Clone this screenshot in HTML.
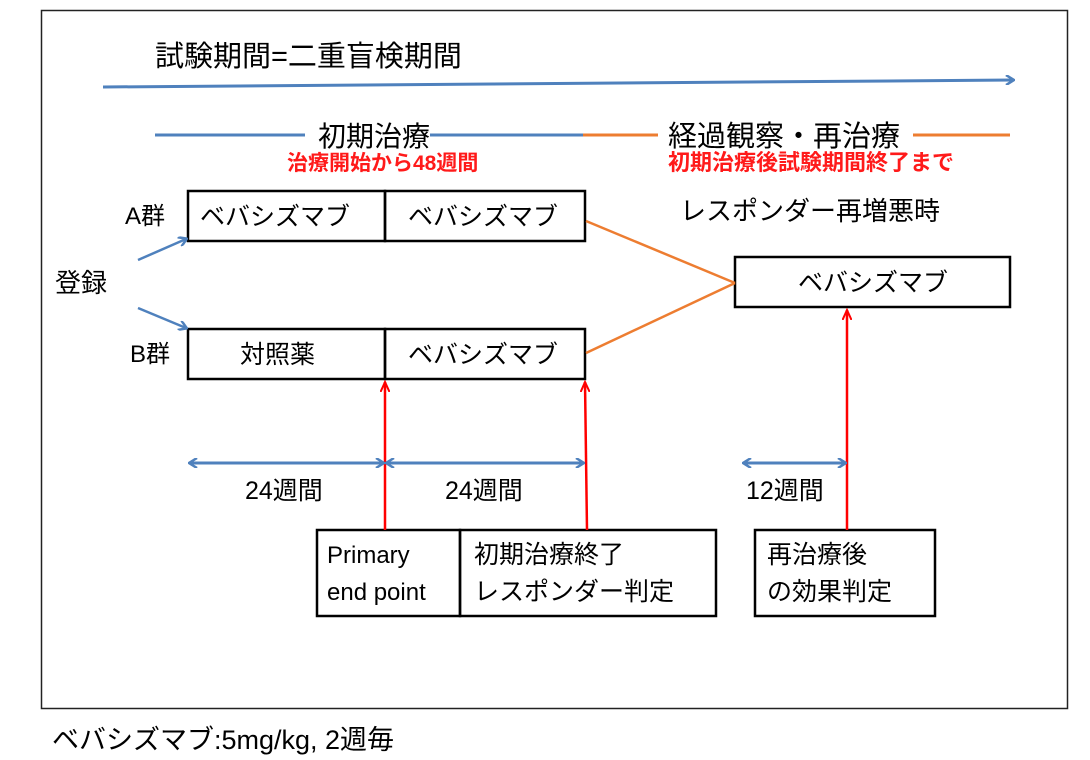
<!DOCTYPE html>
<html><head><meta charset="utf-8"><style>
html,body{margin:0;padding:0;background:#fff;}
svg{display:block;}
text{font-family:"Liberation Sans","Noto Sans CJK JP",sans-serif;fill:#000;}
</style></head><body>
<svg width="1090" height="760" viewBox="0 0 1090 760" xmlns="http://www.w3.org/2000/svg">
<defs>
<marker id="ba" markerWidth="10" markerHeight="10" refX="8" refY="5" orient="auto" markerUnits="userSpaceOnUse"><path d="M1,0 L9,5 L1,10" fill="none" stroke="#4f81bd" stroke-width="2.5"/></marker>
<marker id="bs" markerWidth="10" markerHeight="10" refX="2" refY="5" orient="auto" markerUnits="userSpaceOnUse"><path d="M9,0 L1,5 L9,10" fill="none" stroke="#4f81bd" stroke-width="2.5"/></marker>
<marker id="ra" markerWidth="12" markerHeight="10" refX="10" refY="5" orient="auto" markerUnits="userSpaceOnUse"><path d="M0,0.5 L10,5 L0,9.5" fill="none" stroke="#ff0000" stroke-width="2"/></marker>
</defs>
<rect x="41.5" y="10.5" width="1026" height="698" fill="#fff" stroke="#222" stroke-width="1.5"/>
<text x="155" y="66" font-size="29">試験期間=二重盲検期間</text>
<line x1="103" y1="87" x2="1013" y2="80" stroke="#4f81bd" stroke-width="3" marker-end="url(#ba)"/>
<line x1="155" y1="135" x2="305" y2="135" stroke="#4f81bd" stroke-width="3"/>
<line x1="430" y1="135" x2="583" y2="135" stroke="#4f81bd" stroke-width="3"/>
<line x1="583" y1="135" x2="658" y2="135" stroke="#ed7d31" stroke-width="3"/>
<line x1="913" y1="135" x2="1010" y2="135" stroke="#ed7d31" stroke-width="3"/>
<text x="318" y="146" font-size="28">初期治療</text>
<text x="668" y="146" font-size="29">経過観察・再治療</text>
<text x="287" y="170" font-size="21" font-weight="bold" style="fill:#ff1a1a">治療開始から48週間</text>
<text x="668" y="170" font-size="22" font-weight="bold" style="fill:#ff1a1a">初期治療後試験期間終了まで</text>
<text x="125" y="224" font-size="24">A群</text>
<text x="130" y="362" font-size="24">B群</text>
<text x="55" y="292" font-size="26">登録</text>
<text x="680" y="220" font-size="26">レスポンダー再増悪時</text>
<g fill="none" stroke="#000" stroke-width="2.5">
<rect x="188" y="191" width="197" height="50"/><rect x="385" y="191" width="200" height="50"/>
<rect x="188" y="329" width="197" height="50"/><rect x="385" y="329" width="200" height="50"/>
<rect x="735" y="257" width="275" height="50"/>
<rect x="317" y="530" width="143" height="86"/><rect x="460" y="530" width="256" height="86"/>
<rect x="755" y="530" width="180" height="86"/>
</g>
<g font-size="25">
<text x="200" y="225">ベバシズマブ</text>
<text x="408" y="225">ベバシズマブ</text>
<text x="240" y="363">対照薬</text>
<text x="408" y="363">ベバシズマブ</text>
<text x="798" y="291">ベバシズマブ</text>
<text x="474" y="563">初期治療終了</text>
<text x="474" y="600">レスポンダー判定</text>
<text x="767" y="563">再治療後</text>
<text x="767" y="600">の効果判定</text>
<text x="327" y="563" font-size="24">Primary</text>
<text x="327" y="600" font-size="24">end point</text>
<text x="245" y="499">24週間</text>
<text x="445" y="499">24週間</text>
<text x="746" y="499">12週間</text>
</g>
<line x1="586" y1="221" x2="735" y2="283" stroke="#ed7d31" stroke-width="2.5"/>
<line x1="586" y1="353" x2="735" y2="283" stroke="#ed7d31" stroke-width="2.5"/>
<line x1="138" y1="260" x2="186" y2="239" stroke="#4f81bd" stroke-width="2.5" marker-end="url(#ba)"/>
<line x1="138" y1="308" x2="186" y2="328" stroke="#4f81bd" stroke-width="2.5" marker-end="url(#ba)"/>
<line x1="385" y1="530" x2="385" y2="382" stroke="#ff0000" stroke-width="2.5" marker-end="url(#ra)"/>
<line x1="587" y1="530" x2="585" y2="382" stroke="#ff0000" stroke-width="2.5" marker-end="url(#ra)"/>
<line x1="847" y1="530" x2="847" y2="310" stroke="#ff0000" stroke-width="2.5" marker-end="url(#ra)"/>
<line x1="190" y1="463" x2="383" y2="463" stroke="#4f81bd" stroke-width="3" marker-start="url(#bs)" marker-end="url(#ba)"/>
<line x1="387" y1="463" x2="583" y2="463" stroke="#4f81bd" stroke-width="3" marker-start="url(#bs)" marker-end="url(#ba)"/>
<line x1="744" y1="463" x2="845" y2="463" stroke="#4f81bd" stroke-width="3" marker-start="url(#bs)" marker-end="url(#ba)"/>
<text x="52" y="749" font-size="27">ベバシズマブ:5mg/kg, 2週毎</text>
</svg>
</body></html>
